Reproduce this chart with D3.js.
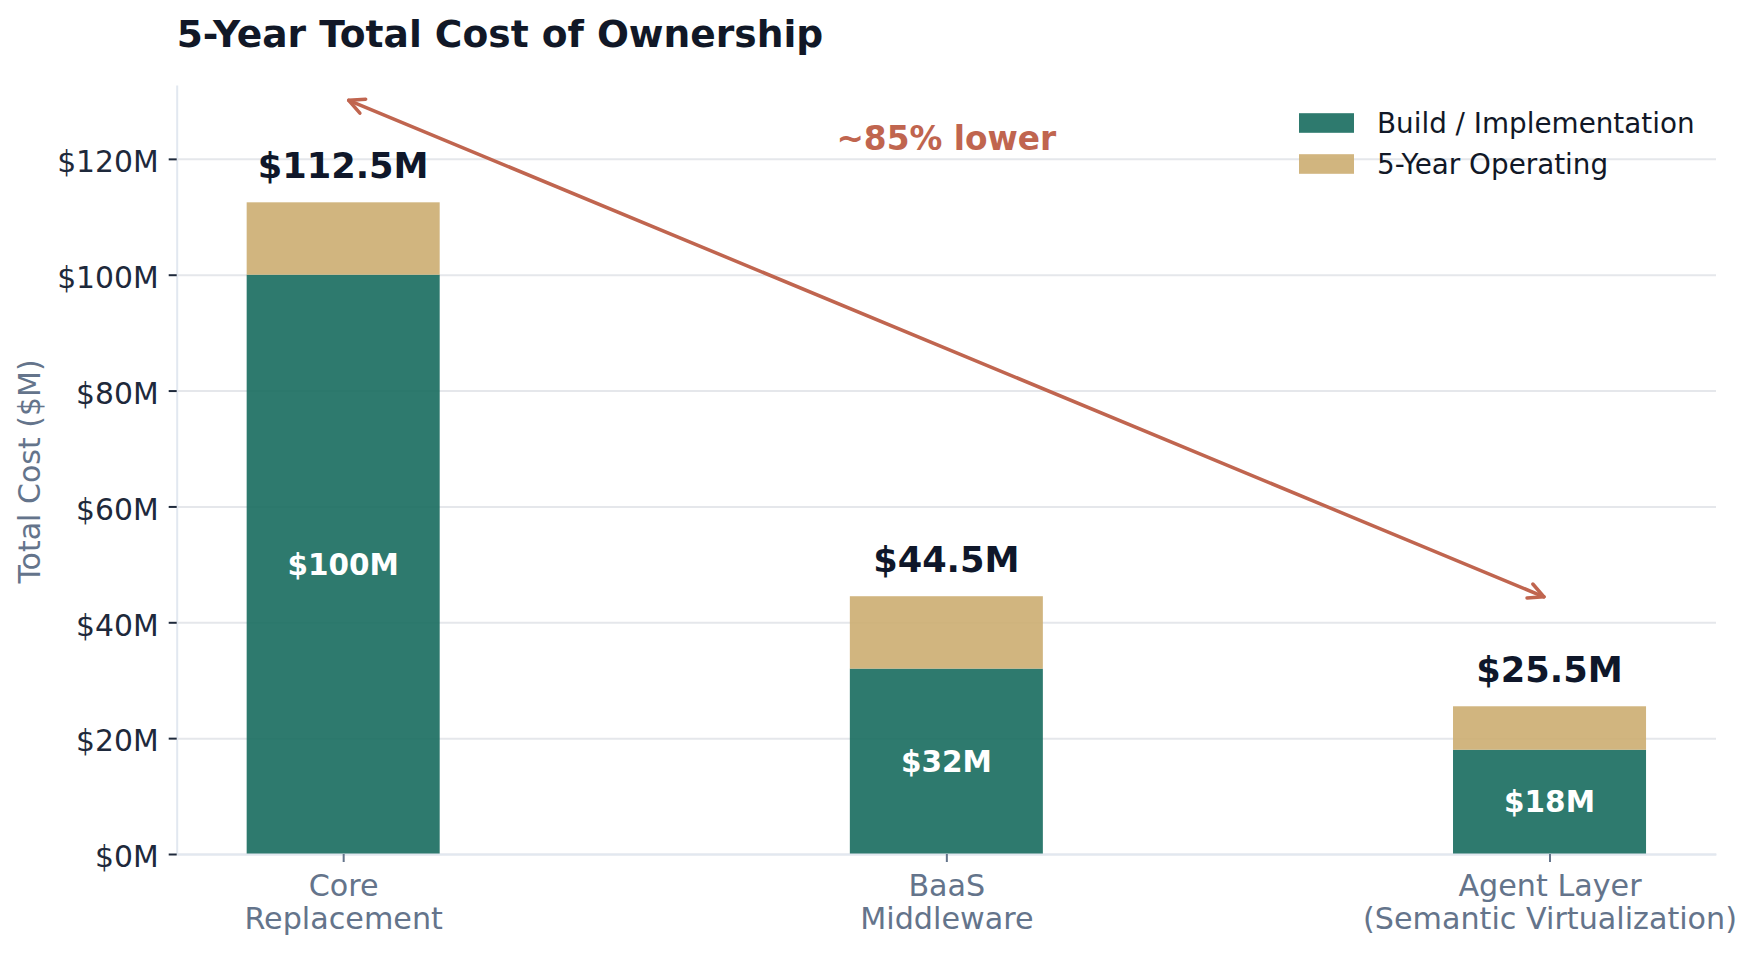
<!DOCTYPE html>
<html>
<head>
<meta charset="utf-8">
<script src="https://cdn.jsdelivr.net/npm/d3@7"></script>
<style>
  body { margin: 0; background: #fff; }
  svg { display: block; font-family: "DejaVu Sans", sans-serif; }
</style>
</head>
<body>
<div id="chart"></div>
<script>
// values
const categories = [["Core", "Replacement"], ["BaaS", "Middleware"], ["Agent Layer", "(Semantic Virtualization)"]];
const buildCost = [100, 32, 18];
const operatingCost = [12.5, 12.5, 7.5];
const yTicks = [0, 20, 40, 60, 80, 100, 120];
const seriesNames = ["Build / Implementation", "5-Year Operating"];
const arrowFrom = [0, 130.5];
const arrowTo = [2, 44];
const noteText = "~85% lower";
const notePos = [1, 123.5];

const width = 1753, height = 953;
const margin = { top: 85, right: 37, bottom: 99, left: 176.7 };

const green = "#176C5E", tan = "#CCAD71", accent = "#C0654F";
const navy = "#0f172a", slate = "#64748b", grid = "#e5e7eb";

const totals = buildCost.map((b, i) => b + operatingCost[i]);
const fmt = v => "$" + (Number.isInteger(v) ? v : v.toFixed(1)) + "M";

const svg = d3.select("#chart").append("svg")
    .attr("width", width)
    .attr("height", height);

// x in bar-index units, like a plain matplotlib bar chart
const x = d3.scaleLinear()
    .domain([-0.276, 2.276])
    .range([margin.left, width - margin.right]);

const y = d3.scaleLinear()
    .domain([0, d3.max(totals) * 1.18])
    .range([height - margin.bottom, margin.top]);

const barW = x(0.32) - x(0);

// gridlines under everything
svg.append("g")
    .attr("transform", `translate(${margin.left},0)`)
    .call(d3.axisLeft(y).tickValues(yTicks).tickSize(-(width - margin.right - margin.left)).tickFormat(""))
    .call(g => g.select(".domain").remove())
    .call(g => g.selectAll("line").attr("stroke", grid).attr("stroke-width", 2));

// stacked bars
const bars = svg.append("g");
categories.forEach((c, i) => {
    bars.append("rect")
        .attr("x", x(i) - barW / 2)
        .attr("width", barW)
        .attr("y", y(buildCost[i]))
        .attr("height", y(0) - y(buildCost[i]))
        .attr("fill", green)
        .attr("fill-opacity", 0.9);

    bars.append("rect")
        .attr("x", x(i) - barW / 2)
        .attr("width", barW)
        .attr("y", y(totals[i]))
        .attr("height", y(buildCost[i]) - y(totals[i]))
        .attr("fill", tan)
        .attr("fill-opacity", 0.9);

    // value inside the build segment
    bars.append("text")
        .attr("x", x(i))
        .attr("y", y(buildCost[i] / 2))
        .attr("dy", "0.36em")
        .attr("text-anchor", "middle")
        .attr("font-size", 29.5)
        .attr("font-weight", "bold")
        .attr("fill", "#fff")
        .text(fmt(buildCost[i]));

    // total on top
    bars.append("text")
        .attr("x", x(i))
        .attr("y", y(totals[i]) - 24)
        .attr("text-anchor", "middle")
        .attr("font-size", 35.2)
        .attr("font-weight", "bold")
        .attr("fill", navy)
        .text(fmt(totals[i]));
});

// y axis
svg.append("g")
    .attr("transform", `translate(${margin.left},0)`)
    .call(d3.axisLeft(y).tickValues(yTicks).tickSize(8).tickSizeOuter(0).tickPadding(10).tickFormat(d => "$" + d + "M"))
    .call(g => g.select(".domain").attr("stroke", "#e2e8f0").attr("stroke-width", 2))
    .call(g => g.selectAll(".tick line").attr("stroke", "#1e293b").attr("stroke-width", 2))
    .call(g => g.selectAll(".tick text")
        .attr("font-family", "DejaVu Sans")
        .attr("font-size", 29.8)
        .attr("fill", "#1e293b")
        .attr("dy", "0.43em"));

// x axis
svg.append("g")
    .attr("transform", `translate(0,${y(0)})`)
    .call(d3.axisBottom(x).tickValues(d3.range(categories.length)).tickSize(8).tickSizeOuter(0).tickFormat(""))
    .call(g => g.select(".domain").attr("stroke", "#e2e8f0").attr("stroke-width", 2))
    .call(g => g.selectAll(".tick line").attr("stroke", slate).attr("stroke-width", 2))
    .call(g => g.selectAll(".tick").each(function (d) {
        const t = d3.select(this).append("text")
            .attr("text-anchor", "middle")
            .attr("font-family", "DejaVu Sans")
            .attr("font-size", 30.2)
            .attr("fill", slate);
        categories[d].forEach((line, k) => {
            t.append("tspan").attr("x", 0).attr("y", 42 + k * 32.7).text(line);
        });
    }));

// y axis title
svg.append("text")
    .attr("transform", `translate(40,${(y(0) + margin.top) / 2 + 2}) rotate(-90)`)
    .attr("text-anchor", "middle")
    .attr("font-size", 30)
    .attr("fill", slate)
    .text("Total Cost ($M)");

// chart title
svg.append("text")
    .attr("x", margin.left)
    .attr("y", 46.7)
    .attr("font-size", 37.6)
    .attr("font-weight", "bold")
    .attr("fill", "#111827")
    .text("5-Year Total Cost of Ownership");

// double-headed arrow between first and last bar
const p1 = [x(arrowFrom[0]), y(arrowFrom[1])];
const p2 = [x(arrowTo[0]), y(arrowTo[1])];
const ang = Math.atan2(p2[1] - p1[1], p2[0] - p1[0]);
const shrink = 6;
const a = [p1[0] + shrink * Math.cos(ang), p1[1] + shrink * Math.sin(ang)];
const b = [p2[0] - shrink * Math.cos(ang), p2[1] - shrink * Math.sin(ang)];
const headLen = 17, headAng = 0.46;

const arrow = svg.append("g")
    .attr("stroke", accent)
    .attr("stroke-width", 3.5)
    .attr("fill", "none")
    .attr("stroke-linejoin", "round")
    .attr("stroke-linecap", "round");

arrow.append("line")
    .attr("x1", a[0]).attr("y1", a[1])
    .attr("x2", b[0]).attr("y2", b[1]);

function head(tip, dir) {
    const pts = [
        [tip[0] + headLen * Math.cos(dir - headAng), tip[1] + headLen * Math.sin(dir - headAng)],
        tip,
        [tip[0] + headLen * Math.cos(dir + headAng), tip[1] + headLen * Math.sin(dir + headAng)]
    ];
    arrow.append("path").attr("d", d3.line()(pts));
}
head(a, ang);
head(b, ang + Math.PI);

svg.append("text")
    .attr("x", x(notePos[0]))
    .attr("y", y(notePos[1]))
    .attr("dy", "0.36em")
    .attr("text-anchor", "middle")
    .attr("font-size", 32.8)
    .attr("font-weight", "bold")
    .attr("fill", accent)
    .text(noteText);

// legend
const legend = svg.append("g").attr("transform", "translate(1299,0)");
[green, tan].forEach((col, k) => {
    const cy = 123 + k * 41;
    legend.append("rect")
        .attr("x", 0)
        .attr("y", cy - 9.8)
        .attr("width", 55)
        .attr("height", 19.6)
        .attr("fill", col)
        .attr("fill-opacity", 0.9);
    legend.append("text")
        .attr("x", 78)
        .attr("y", cy + 10)
        .attr("font-size", 27.8)
        .attr("fill", "#111827")
        .text(seriesNames[k]);
});
</script>
</body>
</html>
